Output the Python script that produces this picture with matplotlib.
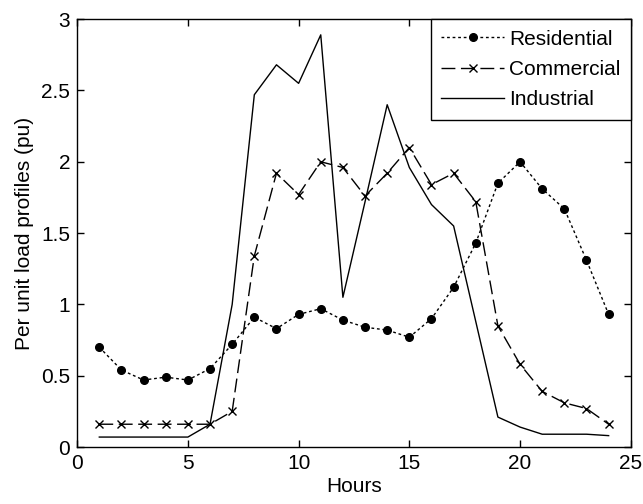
import matplotlib
matplotlib.use("Agg")
import matplotlib.pyplot as plt

hours = list(range(1, 25))
residential = [0.70, 0.54, 0.47, 0.49, 0.47, 0.55, 0.72, 0.91, 0.83, 0.93, 0.97, 0.89,
               0.84, 0.82, 0.77, 0.90, 1.12, 1.43, 1.85, 2.00, 1.81, 1.67, 1.31, 0.93]
commercial = [0.16, 0.16, 0.16, 0.16, 0.16, 0.16, 0.25, 1.34, 1.92, 1.77, 2.00, 1.96,
              1.76, 1.92, 2.10, 1.84, 1.92, 1.72, 0.85, 0.58, 0.39, 0.31, 0.27, 0.16]
industrial = [0.07, 0.07, 0.07, 0.07, 0.07, 0.16, 1.00, 2.47, 2.68, 2.55, 2.89, 1.05,
              1.72, 2.40, 1.96, 1.70, 1.55, 0.88, 0.21, 0.14, 0.09, 0.09, 0.09, 0.08]
xticks = [0, 5, 10, 15, 20, 25]
yticks = [0, 0.5, 1, 1.5, 2, 2.5, 3]

plt.rcParams['font.family'] = ['Liberation Sans', 'DejaVu Sans']

fig = plt.figure(figsize=(6.43, 5.04), dpi=100)
ax = fig.add_axes([0.120, 0.113, 0.861, 0.849])

ax.plot(hours, residential, linestyle=(0, (2, 2)), color='black', linewidth=1.0,
        marker='o', markersize=5.5, label='Residential')
ax.plot(hours, commercial, linestyle=(0, (10, 4)), color='black', linewidth=1.0,
        marker='x', markersize=6, markeredgewidth=1.0, label='Commercial')
ax.plot(hours, industrial, linestyle='-', color='black', linewidth=1.0,
        label='Industrial')

ax.set_xlim(0, 25)
ax.set_ylim(0, 3)
ax.set_xticks(xticks)
ax.set_xticklabels([str(t) for t in xticks])
ax.set_yticks(yticks)
ax.set_yticklabels(['0', '0.5', '1', '1.5', '2', '2.5', '3'])
ax.tick_params(direction='in', top=True, right=True, labelsize=15, length=5, width=1, pad=5)
for s in ax.spines.values():
    s.set_linewidth(1.0)

ax.set_xlabel('Hours', fontsize=15, labelpad=3)
ax.set_ylabel('Per unit load profiles (pu)', fontsize=15, labelpad=5)

leg = ax.legend(loc='upper right', bbox_to_anchor=(1, 1), borderaxespad=0,
                fancybox=False, edgecolor='black', framealpha=1, fontsize=15,
                handlelength=3.0, handletextpad=0.25, labelspacing=0.55,
                borderpad=0.5)
leg.get_frame().set_linewidth(1.0)

fig.savefig('out.png', dpi=100)
